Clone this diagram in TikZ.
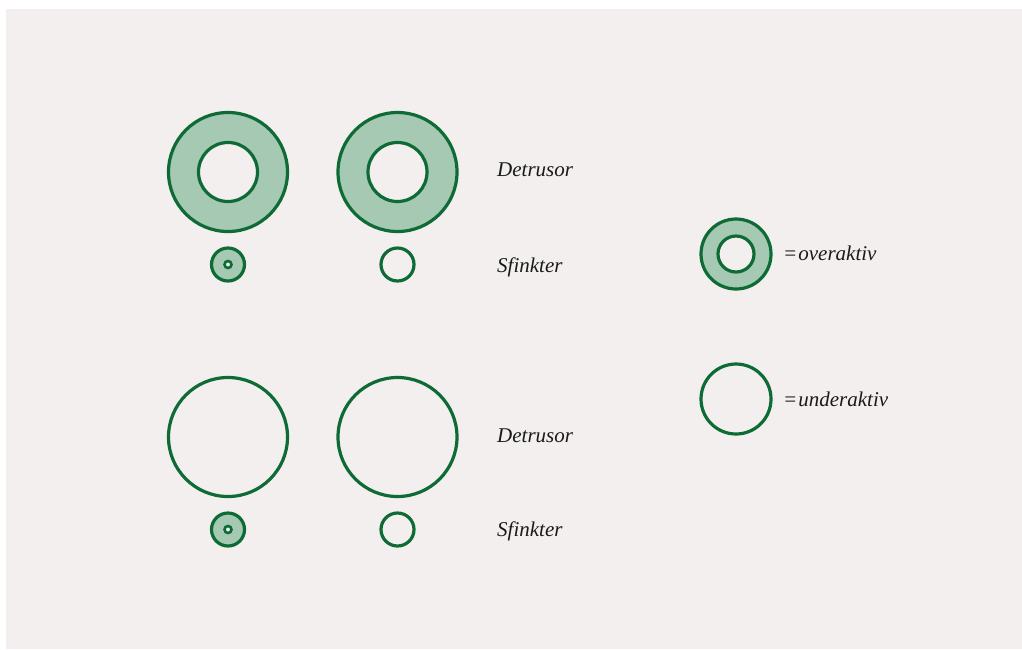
\documentclass[tikz,border=0pt]{standalone}
\usepackage{fontspec}
\setmainfont{Liberation Serif}
\definecolor{panel}{HTML}{F2EFEE}
\definecolor{dgreen}{HTML}{0E6B36}
\definecolor{lgreen}{HTML}{A6C9B3}
\definecolor{txt}{HTML}{1A1A1A}
\tikzset{
  ring/.style={circle, draw=dgreen, line width=3.2pt, inner sep=0pt, minimum size=#1},
  filled/.style={fill=lgreen},
  hole/.style={fill=panel},
  lbl/.style={anchor=base west, inner sep=0pt, text=txt, font=\fontsize{21}{25}\selectfont\itshape}
}
\begin{document}
\begin{tikzpicture}[x=1pt,y=-1pt]
\useasboundingbox (0,0) rectangle (1022,649);
\fill[white] (0,0) rectangle (1022,649);
\fill[panel] (6,9) rectangle (1022,649);
% top row
\node[ring=119pt, filled] (d1) at (228,172) {};
\node[ring=59pt, hole] (d1i) at (228,172) {};
\node[ring=119pt, filled] (d2) at (397.5,172) {};
\node[ring=59pt, hole] (d2i) at (397.5,172) {};
\node[ring=33pt, filled] (s1) at (228,264.5) {};
\node[ring=7pt, hole, line width=2.6pt] (s1i) at (228,264.5) {};
\node[ring=33pt, hole] (s2) at (397.5,264.5) {};
\node[lbl] (ld1) at (497,176) {Detrusor};
\node[lbl] (ls1) at (497,272) {Sfinkter};
% bottom row
\node[ring=119pt, hole] (d3) at (228,437) {};
\node[ring=119pt, hole] (d4) at (397.5,437) {};
\node[ring=33pt, filled] (s3) at (228,529.5) {};
\node[ring=7pt, hole, line width=2.6pt] (s3i) at (228,529.5) {};
\node[ring=33pt, hole] (s4) at (397.5,529.5) {};
\node[lbl] (ld2) at (497,442) {Detrusor};
\node[lbl] (ls2) at (497,536) {Sfinkter};
% legend
\node[ring=70pt, filled] (lo) at (736,254) {};
\node[ring=36pt, hole] (loi) at (736,254) {};
\node[lbl] (to) at (783,260) {=\kern1pt overaktiv};
\node[ring=70pt, hole] (lu) at (736,399) {};
\node[lbl] (tu) at (783,406) {=\kern1pt underaktiv};
\end{tikzpicture}
\end{document}
